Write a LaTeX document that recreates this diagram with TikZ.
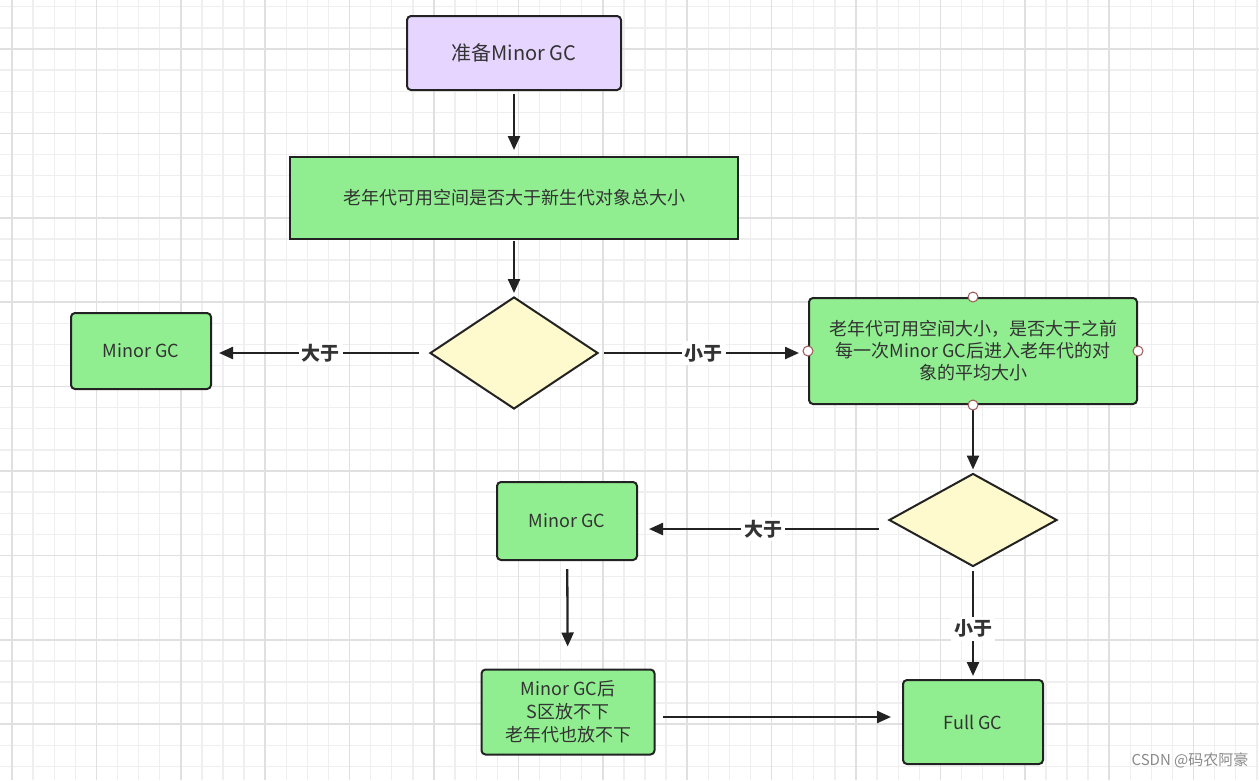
\documentclass[tikz,border=0pt]{standalone}
\usepackage{fontspec}
\setmainfont{Noto Sans CJK SC}
\usetikzlibrary{shapes.geometric,arrows.meta}
\definecolor{gminor}{HTML}{EFEFEF}
\definecolor{gmajor}{HTML}{E0E0E0}
\definecolor{boxgreen}{HTML}{90EE90}
\definecolor{boxpurple}{HTML}{E6D5FF}
\definecolor{boxyellow}{HTML}{FFFACD}
\definecolor{ink}{HTML}{222222}
\definecolor{txt}{HTML}{333333}
\definecolor{handle}{HTML}{A05555}
\definecolor{wmgray}{HTML}{8A8A8A}
\begin{document}
\begin{tikzpicture}[x=1pt,y=-1pt,
  box/.style={draw=ink,line width=2pt,fill=boxgreen,rounded corners=4pt,align=center,text=txt,inner sep=0pt},
  dec/.style={diamond,draw=ink,line width=2pt,fill=boxyellow,inner sep=0pt},
  arr/.style={draw=ink,line width=2.3pt,-{Triangle[length=14pt,width=12pt]}},
  lbl/.style={fill=white,text=txt,font=\bfseries\fontsize{19pt}{19pt}\selectfont,inner sep=3pt},
  f18/.style={font=\fontsize{18pt}{22pt}\selectfont},
]
\fill[white] (0,0) rectangle (1259,780);
\useasboundingbox (0,0) rectangle (1259,780);
% grid
\foreach \k in {0,...,59}{\draw[gminor,line width=1.3pt] ({12+21.1*\k},0) -- ({12+21.1*\k},780);}
\foreach \k in {0,...,36}{\draw[gminor,line width=1.3pt] (0,{6.8+21.1*\k}) -- (1259,{6.8+21.1*\k});}
\foreach \k in {0,...,14}{\draw[gmajor,line width=1.5pt] ({12+84.4*\k},0) -- ({12+84.4*\k},780);}
\foreach \k in {0,...,8}{\draw[gmajor,line width=1.5pt] (0,{49+84.4*\k}) -- (1259,{49+84.4*\k});}

% nodes
\node[box,fill=boxpurple,minimum width=214pt,minimum height=74pt,font=\fontsize{20pt}{24pt}\selectfont] (start) at (514,53) {准备Minor GC};
\node[box,rounded corners=0pt,minimum width=448pt,minimum height=82pt,f18] (q1) at (514,198) {老年代可用空间是否大于新生代对象总大小};
\node[dec,minimum width=168pt,minimum height=112pt] (d1) at (514,353) {};
\node[box,minimum width=140pt,minimum height=76pt,f18] (mg1) at (141,351) {Minor GC};
\node[box,minimum width=328pt,minimum height=106pt,f18] (q2) at (973,351) {老年代可用空间大小，是否大于之前\\每一次Minor GC后进入老年代的对\\象的平均大小};
\node[dec,minimum width=168pt,minimum height=93pt] (d2) at (973,520) {};
\node[box,minimum width=140pt,minimum height=78pt,f18] (mg2) at (567,521) {Minor GC};
\node[box,minimum width=173pt,minimum height=85pt,font=\fontsize{18pt}{23pt}\selectfont] (after) at (568,712) {Minor GC后\\S区放不下\\老年代也放不下};
\node[box,minimum width=140pt,minimum height=84pt,f18] (full) at (973,722) {Full GC};
\node[text=wmgray,font=\fontsize{15pt}{15pt}\selectfont,inner sep=0pt] (wm) at (1190,760) {CSDN @码农阿豪};

% connectors
\draw[arr,shorten <=3pt,shorten >=6pt] (start) -- (q1);
\draw[arr,shorten <=1pt,shorten >=3pt] (q1) -- (d1);
\draw[arr,shorten <=10pt,shorten >=7pt] (d1.west) -- (mg1.east |- d1.west) node[lbl,midway] {大于};
\draw[arr,shorten <=5pt,shorten >=9pt] (d1.east) -- (q2.west |- d1.east) node[lbl,midway] {小于};
\draw[arr,shorten <=1pt,shorten >=3pt] (q2) -- (d2);
\draw[arr,shorten <=9pt,shorten >=11pt] (d2.west |- 0,529) -- (mg2.east |- 0,529) node[lbl,midway] {大于};
\draw[arr,shorten <=8pt,shorten >=22pt] (mg2) -- (after);
\draw[arr,shorten <=7pt,shorten >=11pt] (after.east |- 0,717) -- (full.west |- 0,717);
\draw[arr,shorten <=3pt,shorten >=3pt] (d2) -- (full) node[lbl,pos=0.55] {小于};

% selection handles on the right box
\foreach \a in {north,south,east,west}{\draw[handle,fill=white,line width=1pt] (q2.\a) circle (5pt);}
\end{tikzpicture}
\end{document}
